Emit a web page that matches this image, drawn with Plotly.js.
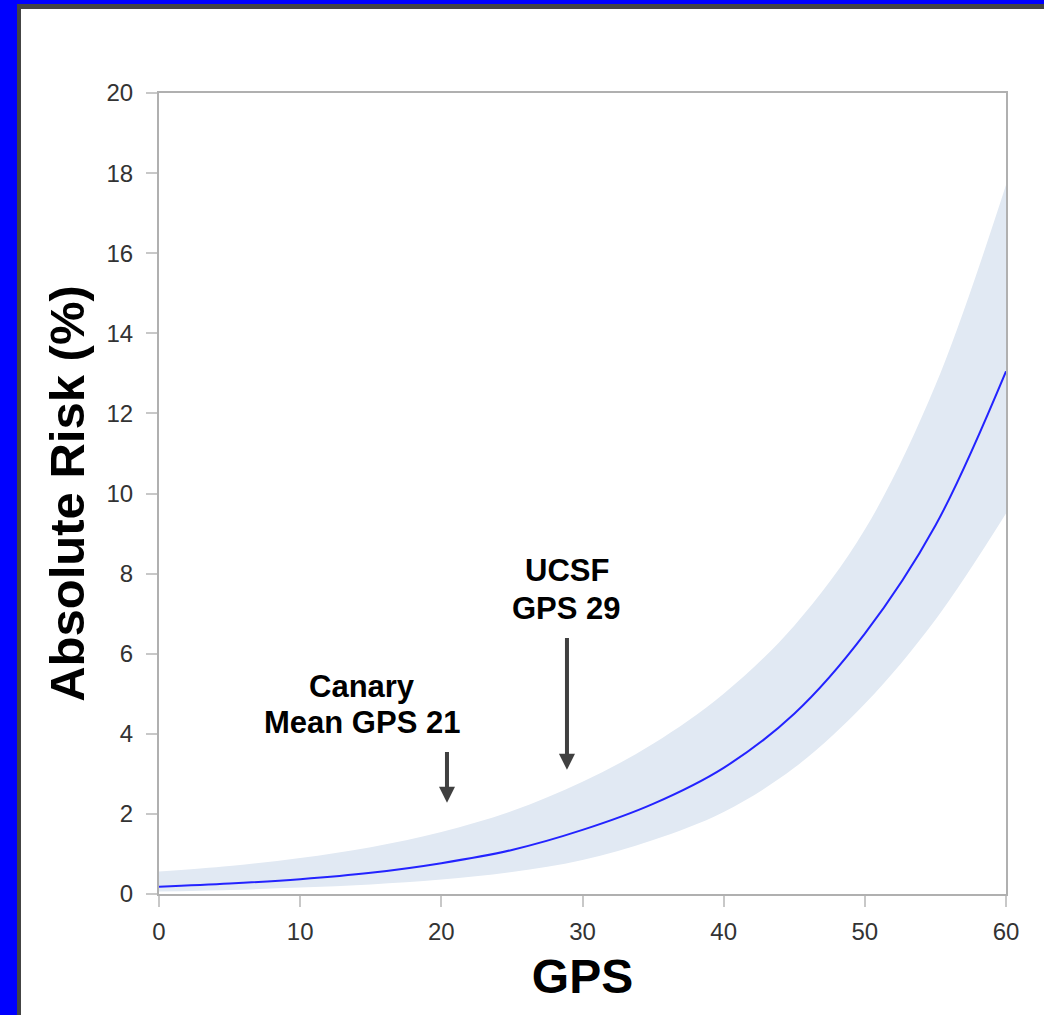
<!DOCTYPE html>
<html>
<head>
<meta charset="utf-8">
<script src="https://cdn.plot.ly/plotly-3.0.1.min.js"></script>
<style>
  html, body { margin: 0; padding: 0; width: 1044px; height: 1015px; overflow: hidden; background: #0000ff; }
  #edge { position: absolute; left: 17px; top: 4px; width: 1027px; height: 1011px; background: #444444; }
  #panel { position: absolute; left: 21px; top: 9px; width: 1023px; height: 1006px; background: #ffffff; }
  #chart { position: absolute; left: 0; top: 0; width: 1044px; height: 1015px; }
</style>
</head>
<body>
<div id="edge"></div>
<div id="panel"></div>
<div id="chart"></div>
<script>
// GPS values (x)
const gps = [0, 5, 10, 15, 20, 25, 30, 35, 40, 45, 50, 55, 60];
// Absolute risk (%) — fitted curve
const riskMid = [0.18, 0.26, 0.37, 0.53, 0.77, 1.1, 1.6, 2.25, 3.15, 4.5, 6.5, 9.2, 13.05];
// Upper confidence limit
const riskUpper = [0.56, 0.7, 0.9, 1.17, 1.55, 2.07, 2.8, 3.75, 5.0, 6.7, 9.1, 12.7, 17.7];
// Lower confidence limit
const riskLower = [0.06, 0.1, 0.16, 0.24, 0.36, 0.55, 0.85, 1.35, 2.05, 3.15, 4.75, 6.85, 9.5];

const xTicks = [0, 10, 20, 30, 40, 50, 60];
const yTicks = [0, 2, 4, 6, 8, 10, 12, 14, 16, 18, 20];

const markerLabels = [
  { lines: ['Canary', 'Mean GPS 21'], x: 14.4, yLines: [5.19, 4.29], arrowX: 20.4, arrowTail: 3.58, arrowTip: 2.28 },
  { lines: ['UCSF', 'GPS 29'], x: 28.9, yLines: [8.07, 7.14], arrowX: 28.9, arrowTail: 6.43, arrowTip: 3.1 }
];

const bandColor = '#e1e9f3';
const traces = [
  { x: gps, y: riskLower, type: 'scatter', mode: 'lines', line: { width: 0, shape: 'spline', color: bandColor }, hoverinfo: 'skip', showlegend: false },
  { x: gps, y: riskUpper, type: 'scatter', mode: 'lines', fill: 'tonexty', fillcolor: bandColor, line: { width: 0, shape: 'spline', color: bandColor }, hoverinfo: 'skip', showlegend: false },
  { x: gps, y: riskMid, type: 'scatter', mode: 'lines', line: { width: 2, shape: 'spline', color: '#2323ff' }, showlegend: false }
];

const annotations = [];
const textFont = { family: 'Liberation Sans, Arial, sans-serif', size: 31, color: '#000000', weight: 'bold' };
markerLabels.forEach(m => {
  m.lines.forEach((t, i) => {
    annotations.push({ x: m.x, y: m.yLines[i], xref: 'x', yref: 'y', text: '<b>' + t + '</b>', showarrow: false, font: textFont, xanchor: 'center', yanchor: 'middle' });
  });
  annotations.push({ x: m.arrowX, y: m.arrowTip, ax: m.arrowX, ay: m.arrowTail, xref: 'x', yref: 'y', axref: 'x', ayref: 'y', text: '', showarrow: true, arrowhead: 2, arrowsize: 0.8, arrowwidth: 4, arrowcolor: '#404040', standoff: 0 });
});

const tickFont = { family: 'Liberation Sans, Arial, sans-serif', size: 24, color: '#333333' };
const layout = {
  width: 1044, height: 1015,
  paper_bgcolor: 'rgba(0,0,0,0)', plot_bgcolor: 'rgba(0,0,0,0)',
  margin: { l: 159, r: 38, t: 93, b: 121 },
  showlegend: false,
  xaxis: {
    range: [0, 60], tickvals: xTicks, ticktext: xTicks.map(String),
    ticks: 'outside', ticklen: 11, tickwidth: 2, tickcolor: '#c8c8c8',
    showline: true, linecolor: '#b0b0b0', linewidth: 2, mirror: true,
    showgrid: false, zeroline: false, tickfont: tickFont, ticklabelstandoff: 4,
    title: { text: '<b>GPS</b>', font: { family: 'Liberation Sans, Arial, sans-serif', size: 48, color: '#000000' }, standoff: 16 }
  },
  yaxis: {
    range: [0, 20], tickvals: yTicks, ticktext: yTicks.map(String),
    ticks: 'outside', ticklen: 11, tickwidth: 2, tickcolor: '#c8c8c8',
    showline: true, linecolor: '#b0b0b0', linewidth: 2, mirror: true,
    showgrid: false, zeroline: false, tickfont: tickFont, ticklabelstandoff: 8,
    title: { text: '<b>Absolute Risk (%)</b>', font: { family: 'Liberation Sans, Arial, sans-serif', size: 49, color: '#000000' }, standoff: 6 }
  },
  annotations: annotations
};

Plotly.newPlot('chart', traces, layout, { displayModeBar: false, staticPlot: true });
</script>
</body>
</html>
